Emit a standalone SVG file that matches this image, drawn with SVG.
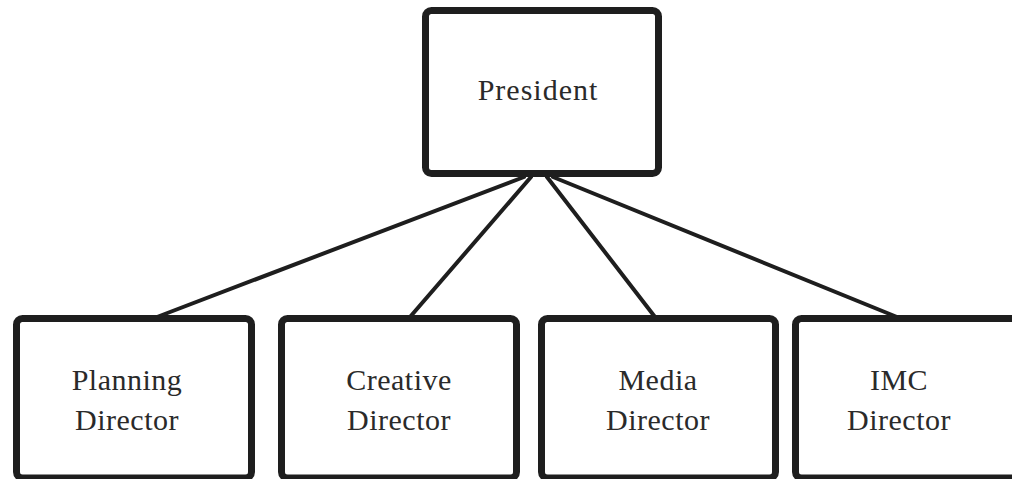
<svg xmlns="http://www.w3.org/2000/svg" width="1012" height="479" viewBox="0 0 1012 479">
  <style>
    .box { fill: #ffffff; stroke: #1e1e1e; stroke-width: 7; }
    .link { stroke: #1e1e1e; stroke-width: 4; fill: none; stroke-linecap: round; }
    .label { font-family: "Liberation Serif", "Times New Roman", serif; font-size: 30px; fill: #2a2a2a; text-anchor: middle; letter-spacing: 0.5px; }
  </style>
  <rect width="1012" height="479" fill="#ffffff"/>

  <!-- reporting lines -->
  <g id="connectors">
    <line class="link" x1="524" y1="177" x2="157" y2="317"/>
    <line class="link" x1="531" y1="177" x2="410" y2="317"/>
    <line class="link" x1="547" y1="177" x2="655" y2="317"/>
    <line class="link" x1="553" y1="177" x2="897" y2="317"/>
  </g>

  <g id="president">
    <rect class="box" x="425.5" y="10.5" width="233" height="163" rx="6"/>
    <text class="label" x="538" y="100" style="letter-spacing:1px">President</text>
  </g>

  <g id="planning-director">
    <rect class="box" x="16.5" y="318.5" width="235" height="159.5" rx="6"/>
    <text class="label" x="127" y="390">Planning</text>
    <text class="label" x="127" y="430">Director</text>
  </g>

  <g id="creative-director">
    <rect class="box" x="281.5" y="318.5" width="235" height="159.5" rx="6"/>
    <text class="label" x="399" y="390">Creative</text>
    <text class="label" x="399" y="430">Director</text>
  </g>

  <g id="media-director">
    <rect class="box" x="541.5" y="318.5" width="234" height="159.5" rx="6"/>
    <text class="label" x="658" y="390">Media</text>
    <text class="label" x="658" y="430">Director</text>
  </g>

  <g id="imc-director">
    <rect class="box" x="795.5" y="318.5" width="240" height="159.5" rx="6"/>
    <text class="label" x="899" y="390">IMC</text>
    <text class="label" x="899" y="430">Director</text>
  </g>
</svg>
